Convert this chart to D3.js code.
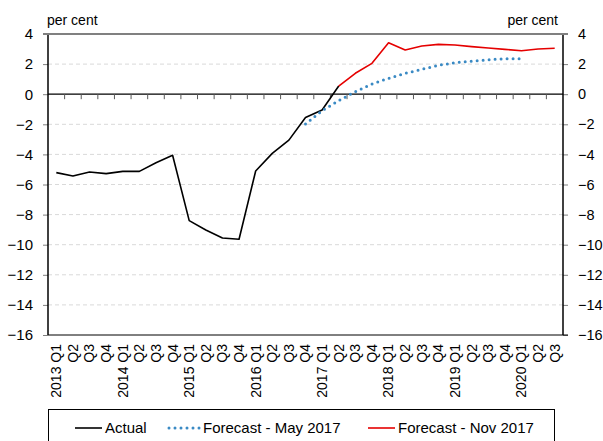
<!DOCTYPE html>
<html><head><meta charset="utf-8">
<script src="https://cdn.jsdelivr.net/npm/d3@7"></script>
<style>body{margin:0;background:#fff}svg{display:block;font-family:"Liberation Sans",Arial,sans-serif}</style>
</head><body><svg id="c" width="603" height="441"></svg>
<script>
const quarters = ["2013Q1","2013Q2","2013Q3","2013Q4","2014Q1","2014Q2","2014Q3","2014Q4",
  "2015Q1","2015Q2","2015Q3","2015Q4","2016Q1","2016Q2","2016Q3","2016Q4",
  "2017Q1","2017Q2","2017Q3","2017Q4","2018Q1","2018Q2","2018Q3","2018Q4",
  "2019Q1","2019Q2","2019Q3","2019Q4","2020Q1","2020Q2","2020Q3"];
const tickLabels = ["2013 Q1","Q2","Q3","Q4","2014 Q1","Q2","Q3","Q4","2015 Q1","Q2","Q3","Q4",
  "2016 Q1","Q2","Q3","Q4","2017 Q1","Q2","Q3","Q4","2018 Q1","Q2","Q3","Q4",
  "2019 Q1","Q2","Q3","Q4","2020 Q1","Q2","Q3"];
const actualQuarters = quarters.slice(0, 18);
const actual = [-5.21,-5.44,-5.17,-5.28,-5.13,-5.13,-4.55,-4.06,-8.4,-9.02,-9.55,-9.64,-5.10,-3.93,-3.05,-1.55,-1.05,0.54];
const mayQuarters = quarters.slice(15, 29);
const mayForecast = [-1.98,-1.1,-0.43,0.17,0.68,1.05,1.39,1.65,1.92,2.09,2.2,2.29,2.36,2.36];
const novQuarters = quarters.slice(17, 31);
const novForecast = [0.54,1.39,2.05,3.42,2.94,3.20,3.31,3.27,3.16,3.07,2.98,2.89,3.0,3.05];
const yTicks = [4,2,0,-2,-4,-6,-8,-10,-12,-14,-16];
const seriesNames = ["Actual","Forecast - May 2017","Forecast - Nov 2017"];

const svg = d3.select("#c");
const L = 48, R = 563, T = 34, B = 335;
const x = d3.scaleBand().domain(quarters).range([L, R]);
const y = d3.scaleLinear().domain([-16, 4]).range([B, T]);
const cx = q => x(q) + x.bandwidth() / 2;

// gridlines
svg.append("g").selectAll("line").data(yTicks.filter(v => v !== 4 && v !== 0 && v !== -16)).join("line")
  .attr("x1", L).attr("x2", R).attr("y1", d => y(d)).attr("y2", d => y(d))
  .attr("stroke", "#d9d9d9").attr("stroke-dasharray", "4,3");

// left axis
const la = svg.append("g").attr("transform", `translate(${L},0)`)
  .call(d3.axisLeft(y).tickValues(yTicks).tickSize(5).tickPadding(10).tickFormat(d3.format("d")));
la.select(".domain").remove();
la.selectAll("text").attr("font-size", 15).attr("fill", "#000").attr("font-family", "Liberation Sans, Arial");
la.selectAll("line").attr("stroke", "#808080");
svg.append("line").attr("x1", L).attr("x2", L).attr("y1", T).attr("y2", B).attr("stroke", "#000").attr("stroke-width", 1.5);

// right axis
const ra = svg.append("g").attr("transform", `translate(${R},0)`)
  .call(d3.axisRight(y).tickValues(yTicks).tickSize(5).tickPadding(10).tickFormat(d3.format("d")));
ra.select(".domain").remove();
ra.selectAll("text").attr("font-size", 14.5).attr("fill", "#000").attr("font-family", "Liberation Sans, Arial");
ra.selectAll("line").attr("stroke", "#808080");
svg.append("line").attr("x1", R).attr("x2", R).attr("y1", T).attr("y2", B).attr("stroke", "#000").attr("stroke-width", 1.5);

// top border and bottom line
svg.append("line").attr("x1", L - 5).attr("x2", R + 5).attr("y1", T).attr("y2", T).attr("stroke", "#808080").attr("stroke-width", 2);
svg.append("line").attr("x1", L).attr("x2", R + 5).attr("y1", B).attr("y2", B).attr("stroke", "#000").attr("stroke-width", 1);

// zero line with category-boundary ticks
svg.append("line").attr("x1", L).attr("x2", R).attr("y1", y(0)).attr("y2", y(0)).attr("stroke", "#000").attr("stroke-width", 1.2);
svg.append("g").selectAll("line").data(quarters.slice(1)).join("line")
  .attr("x1", d => x(d)).attr("x2", d => x(d)).attr("y1", y(0)).attr("y2", y(0) + 5)
  .attr("stroke", "#595959").attr("stroke-width", 1);

// x labels
svg.append("g").selectAll("text").data(quarters).join("text")
  .attr("transform", d => `translate(${cx(d)},344) rotate(-90)`)
  .attr("text-anchor", "end").attr("dy", "0.35em").attr("font-size", 14).attr("fill", "#000")
  .text((d, i) => tickLabels[i]);

// per cent labels
svg.append("text").attr("x", 47).attr("y", 25).attr("font-size", 14).text("per cent");
svg.append("text").attr("x", 558).attr("y", 25).attr("text-anchor", "end").attr("font-size", 14).text("per cent");

// lines
const line = d3.line().x(d => cx(d[0])).y(d => y(d[1]));
svg.append("path").datum(d3.zip(actualQuarters, actual)).attr("d", line)
  .attr("fill", "none").attr("stroke", "#000").attr("stroke-width", 1.6).attr("stroke-linejoin", "round");
svg.append("path").datum(d3.zip(novQuarters, novForecast)).attr("d", line)
  .attr("fill", "none").attr("stroke", "#e50000").attr("stroke-width", 1.6).attr("stroke-linejoin", "round");
svg.append("path").datum(d3.zip(mayQuarters, mayForecast)).attr("d", line)
  .attr("fill", "none").attr("stroke", "#3a8ac4").attr("stroke-width", 3)
  .attr("stroke-dasharray", "0,6").attr("stroke-linecap", "round");

// legend
svg.append("rect").attr("x", 48.5).attr("y", 409.5).attr("width", 506).attr("height", 40)
  .attr("fill", "none").attr("stroke", "#000").attr("stroke-width", 1);
const leg = [
  {x1: 75, x2: 102, tx: 105, color: "#000", w: 1.6, dash: null, cap: "butt"},
  {x1: 169, x2: 200, tx: 203, color: "#3a8ac4", w: 3, dash: "0,6", cap: "round"},
  {x1: 368, x2: 395, tx: 398, color: "#e50000", w: 1.6, dash: null, cap: "butt"}
];
leg.forEach((l, i) => {
  svg.append("line").attr("x1", l.x1).attr("x2", l.x2).attr("y1", 428).attr("y2", 428)
    .attr("stroke", l.color).attr("stroke-width", l.w).attr("stroke-dasharray", l.dash).attr("stroke-linecap", l.cap);
  svg.append("text").attr("x", l.tx).attr("y", 433).attr("font-size", 15).text(seriesNames[i]);
});
</script></body></html>
